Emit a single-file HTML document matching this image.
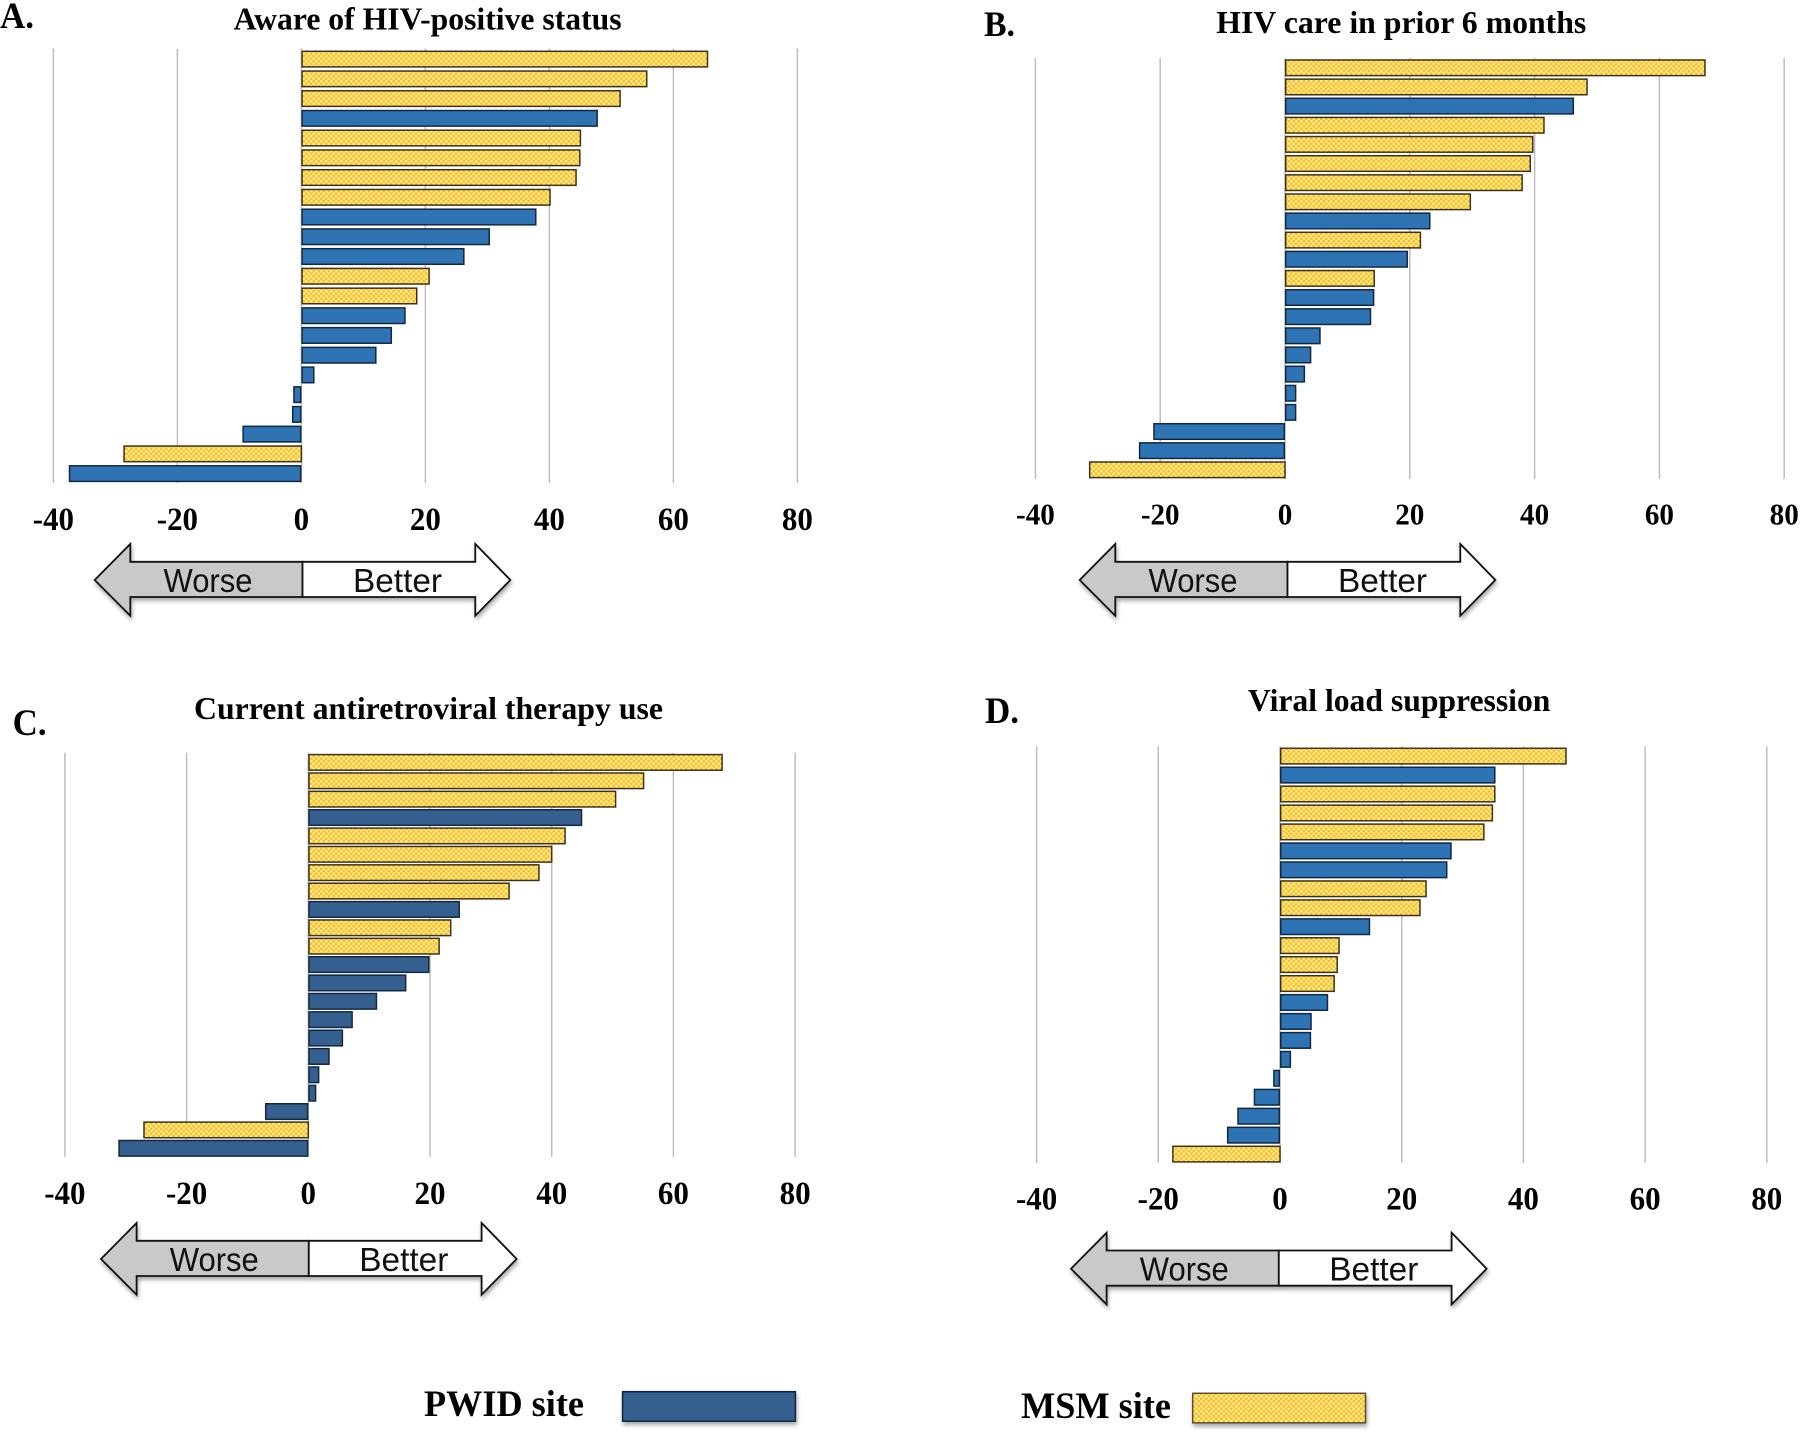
<!DOCTYPE html>
<html lang="en">
<head>
<meta charset="utf-8">
<title>HIV care continuum by site</title>
<style>
html,body{margin:0;padding:0;background:#fff;width:1800px;height:1433px;overflow:hidden}
svg{display:block}
.serif{font-family:"Liberation Serif",serif;font-weight:bold;fill:#000}
.arrowtxt{font-family:"Liberation Sans",sans-serif;font-size:33px;fill:#111;text-anchor:middle}
.shadow{filter:drop-shadow(1px 3px 2px rgba(0,0,0,.35))}
</style>
</head>
<body>
<svg id="chart" xmlns="http://www.w3.org/2000/svg" width="1800" height="1433" viewBox="0 0 1800 1433">
<defs>
<pattern id="dots" width="5" height="5" patternUnits="userSpaceOnUse">
<rect width="5" height="5" fill="#fcc118"/>
<rect x="0" y="0" width="2.5" height="2.5" fill="#ffe9a0"/>
<rect x="2.5" y="2.5" width="2.5" height="2.5" fill="#ffe9a0"/>
</pattern>
<g id="arrow-shape">
<polygon points="302.5,561.8 130.3,561.8 130.3,544 94.7,580 130.3,615.7 130.3,597 302.5,597" fill="#c9c9c9" stroke="#111" stroke-width="1.8"/>
<polygon points="302.5,561.8 475.3,561.8 475.3,544 510.3,580 475.3,615.7 475.3,597 302.5,597" fill="#fff" stroke="#111" stroke-width="1.8"/>
</g>
</defs>

<text class="serif" x="0" y="28" font-size="37" textLength="34" lengthAdjust="spacingAndGlyphs">A.</text>
<text class="serif" x="984" y="36" font-size="36" textLength="31" lengthAdjust="spacingAndGlyphs">B.</text>
<text class="serif" x="12.6" y="735" font-size="37" textLength="34" lengthAdjust="spacingAndGlyphs">C.</text>
<text class="serif" x="985" y="723" font-size="37" textLength="34" lengthAdjust="spacingAndGlyphs">D.</text>

<text class="serif" x="233.6" y="29.5" font-size="32" textLength="388" lengthAdjust="spacingAndGlyphs">Aware of HIV-positive status</text>
<text class="serif" x="1216.3" y="33" font-size="32" textLength="370" lengthAdjust="spacingAndGlyphs">HIV care in prior 6 months</text>
<text class="serif" x="194" y="719" font-size="32" textLength="469" lengthAdjust="spacingAndGlyphs">Current antiretroviral therapy use</text>
<text class="serif" x="1247.9" y="711" font-size="32" textLength="302.5" lengthAdjust="spacingAndGlyphs">Viral load suppression</text>

<g id="plots"></g>

<g>
<use href="#arrow-shape" class="shadow"/>
<text class="arrowtxt" x="208" y="592" textLength="89" lengthAdjust="spacingAndGlyphs">Worse</text>
<text class="arrowtxt" x="397.5" y="592" textLength="89" lengthAdjust="spacingAndGlyphs">Better</text>
</g>
<g transform="translate(985,0)">
<use href="#arrow-shape" class="shadow"/>
<text class="arrowtxt" x="208" y="592" textLength="89" lengthAdjust="spacingAndGlyphs">Worse</text>
<text class="arrowtxt" x="397.5" y="592" textLength="89" lengthAdjust="spacingAndGlyphs">Better</text>
</g>
<g transform="translate(6.3,679)">
<use href="#arrow-shape" class="shadow"/>
<text class="arrowtxt" x="208" y="592" textLength="89" lengthAdjust="spacingAndGlyphs">Worse</text>
<text class="arrowtxt" x="397.5" y="592" textLength="89" lengthAdjust="spacingAndGlyphs">Better</text>
</g>
<g transform="translate(976.3,688.7)">
<use href="#arrow-shape" class="shadow"/>
<text class="arrowtxt" x="208" y="592" textLength="89" lengthAdjust="spacingAndGlyphs">Worse</text>
<text class="arrowtxt" x="397.5" y="592" textLength="89" lengthAdjust="spacingAndGlyphs">Better</text>
</g>

<g>
<text class="serif" x="424" y="1416" font-size="37" textLength="160" lengthAdjust="spacingAndGlyphs">PWID site</text>
<rect class="shadow" x="622.6" y="1391.7" width="172.8" height="29.5" fill="#355f8f" stroke="#10233a" stroke-width="1.5"/>
<text class="serif" x="1021" y="1418" font-size="37" textLength="150" lengthAdjust="spacingAndGlyphs">MSM site</text>
<rect class="shadow" x="1192.7" y="1393.3" width="172.8" height="29.5" fill="url(#dots)" stroke="#5a5030" stroke-width="1.5"/>
</g>
</svg>

<script>
// Tick labels shared by all panels
const tickLabels = [-40, -20, 0, 20, 40, 60, 80];

// Panel A: Aware of HIV-positive status
const valuesA = [65.5, 55.7, 51.4, 47.7, 45, 44.9, 44.3, 40.1, 37.8, 30.3, 26.2, 20.6, 18.6, 16.7, 14.5, 12, 2, -1.2, -1.4, -9.4, -28.6, -37.4];
const sitesA = ['M','M','M','P','M','M','M','M','P','P','P','M','M','P','P','P','P','P','P','P','M','P'];

// Panel B: HIV care in prior 6 months
const valuesB = [67.3, 48.4, 46.2, 41.5, 39.7, 39.3, 38, 29.7, 23.2, 21.7, 19.6, 14.3, 14.2, 13.7, 5.6, 4.1, 3.1, 1.7, 1.7, -21, -23.3, -31.3];
const sitesB = ['M','M','P','M','M','M','M','M','P','M','P','M','P','P','P','P','P','P','P','P','P','M'];

// Panel C: Current antiretroviral therapy use
const valuesC = [68, 55.1, 50.5, 44.9, 42.2, 40, 37.9, 33, 24.8, 23.4, 21.5, 19.8, 16, 11.2, 7.2, 5.6, 3.4, 1.7, 1.2, -7, -27, -31.1];
const sitesC = ['M','M','M','P','M','M','M','M','P','M','M','P','P','P','P','P','P','P','P','P','M','P'];

// Panel D: Viral load suppression
const valuesD = [47, 35.3, 35.3, 34.9, 33.5, 28.1, 27.4, 24, 23, 14.7, 9.7, 9.4, 8.9, 7.8, 5.1, 5, 1.7, -1, -4.2, -6.9, -8.6, -17.6];
const sitesD = ['M','P','M','M','M','P','P','M','M','P','M','M','M','P','P','P','P','P','P','P','P','M'];

const NS = 'http://www.w3.org/2000/svg';
const plots = document.getElementById('plots');

function make(tag, parent, attrs) {
  const el = document.createElementNS(NS, tag);
  for (const k in attrs) el.setAttribute(k, attrs[k]);
  parent.appendChild(el);
  return el;
}

function drawPanel(id, values, sites, layout) {
  const group = make('g', plots, {});
  
  

  const xScale = v => layout.zeroX + v * layout.unit;
  const yScale = i => layout.firstY + i * (layout.lastY - layout.firstY) / (values.length - 1);

  tickLabels.forEach(t => {
    const line = make('line', group, {
      x1: xScale(t), x2: xScale(t), y1: layout.gridTop, y2: layout.gridBottom,
      stroke: '#bdbdbd', 'stroke-width': 1.5
    });
    
    

    const str = String(t);
    const digitWidth = layout.tickSize * 0.47;
    const textWidth = (t < 0 ? digitWidth * 0.66 : 0) + Math.abs(t).toString().length * digitWidth;
    const label = make('text', group, {
      x: xScale(t), y: layout.tickY + layout.tickSize * 0.338,
      'font-size': layout.tickSize, 'text-anchor': 'middle', class: 'serif',
      textLength: textWidth, lengthAdjust: 'spacingAndGlyphs'
    });
    label.textContent = str;
    
    
  });

  values.forEach((v, i) => {
    const isMsm = sites[i] === 'M';
    const gap = isMsm && v < 0 ? 0 : 0.7;
    const x0 = v >= 0 ? xScale(0) + gap : xScale(v);
    const w = Math.abs(v) * layout.unit - gap;
    const bar = make('rect', group, {
      x: x0, y: yScale(i), width: w, height: 15.6,
      fill: isMsm ? 'url(#dots)' : layout.blue,
      stroke: isMsm ? '#3a3318' : '#12283f',
      'stroke-width': 1.5
    });
    
    
  });
}

drawPanel('a', valuesA, sitesA, {zeroX: 301.4, unit: 6.2, gridTop: 48.5, gridBottom: 483, firstY: 51.3, lastY: 465.8, tickY: 519, tickSize: 33, blue: '#2e74b5'});
drawPanel('b', valuesB, sitesB, {zeroX: 1285, unit: 6.24, gridTop: 58, gridBottom: 479, firstY: 60, lastY: 462, tickY: 514, tickSize: 31, blue: '#2e74b5'});
drawPanel('c', valuesC, sitesC, {zeroX: 308.3, unit: 6.085, gridTop: 752.6, gridBottom: 1156.8, firstY: 754.6, lastY: 1140.5, tickY: 1193, tickSize: 33, blue: '#355f8f'});
drawPanel('d', valuesD, sitesD, {zeroX: 1280, unit: 6.085, gridTop: 746.3, gridBottom: 1163, firstY: 748.3, lastY: 1146.3, tickY: 1198.5, tickSize: 33, blue: '#2e74b5'});
</script>
</body>
</html>
